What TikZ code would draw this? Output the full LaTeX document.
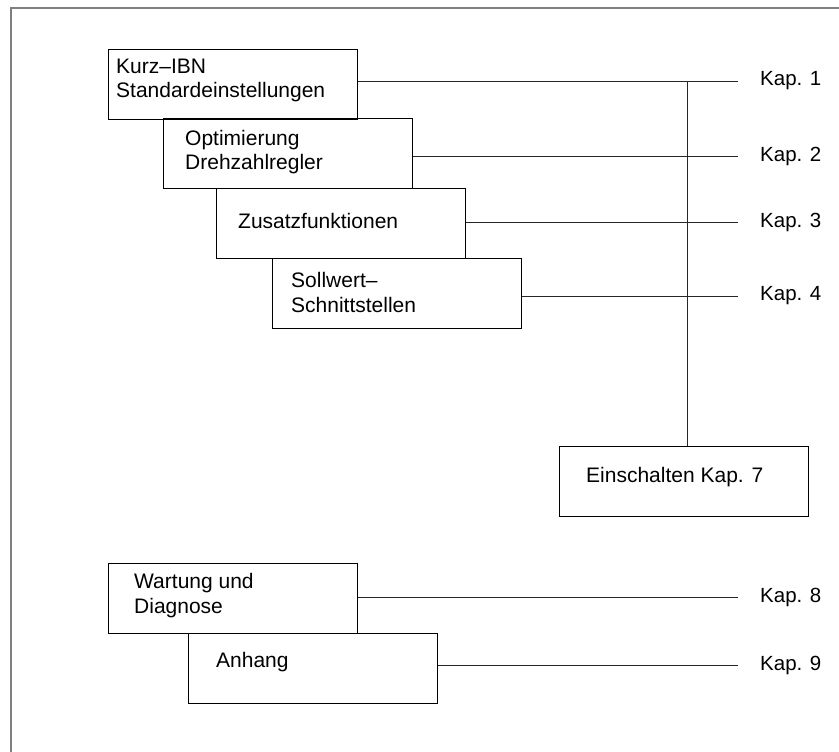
\documentclass[tikz,border=0pt]{standalone}
\usepackage{fontspec}
\setmainfont{Liberation Sans}
\begin{document}
\begin{tikzpicture}[x=1pt,y=-1pt,
  box/.style={draw=black, line width=0.9pt, minimum width=249pt, minimum height=70pt, inner sep=0pt, anchor=north west},
  txt/.style={anchor=west, inner sep=0pt, align=left, font=\fontsize{21}{24.5}\selectfont},
  kap/.style={anchor=west, inner sep=0pt, font=\fontsize{20.5}{24}\selectfont},
  conn/.style={draw=black!85, line width=0.9pt},
  frame/.style={draw=black!50, line width=1.5pt}]
\useasboundingbox (0,0) rectangle (839,752);
% frame
\draw[frame] (839,8) -- (11,8) -- (11,752);
% boxes
\node[box] (b1) at (108,49) {};
\node[box] (b2) at (163,118) {};
\node[box] (b3) at (216,188) {};
\node[box] (b4) at (272,258) {};
\node[box] (b7) at (559,446) {};
\node[box] (b8) at (108,563) {};
\node[box] (b9) at (188,633) {};
% box texts
\node[txt] (t1) at (116,80.5) {Kurz–IBN\\Standardeinstellungen};
\node[txt] (t2) at (185,152) {Optimierung\\Drehzahlregler};
\node[txt] (t3) at (238,221) {Zusatzfunktionen};
\node[txt] (t4) at (291,292.5) {Sollwert–\\Schnittstellen};
\node[txt] (t7) at (586,477) {Einschalten Kap. 7};
\node[txt] (t8) at (134,595.5) {Wartung und\\Diagnose};
\node[txt] (t9) at (216,662) {Anhang};
% line ends
\coordinate (e1) at (738,81);
\coordinate (e2) at (738,156);
\coordinate (e3) at (738,222);
\coordinate (e4) at (738,296);
\coordinate (e8) at (738,597);
\coordinate (e9) at (738,665);
\coordinate (v) at (687,81);
% labels
\node[kap] (k1) at ([xshift=22pt]e1) {Kap. 1};
\node[kap] (k2) at ([xshift=22pt]e2) {Kap. 2};
\node[kap] (k3) at ([xshift=22pt]e3) {Kap. 3};
\node[kap] (k4) at ([xshift=22pt]e4) {Kap. 4};
\node[kap] (k8) at ([xshift=22pt]e8) {Kap. 8};
\node[kap] (k9) at ([xshift=22pt]e9) {Kap. 9};
% connectors
\draw[conn] (b1.east |- e1) -- (e1);
\draw[conn] (b2.east |- e2) -- (e2);
\draw[conn] (b3.east |- e3) -- (e3);
\draw[conn] (b4.east |- e4) -- (e4);
\draw[conn] (b8.east |- e8) -- (e8);
\draw[conn] (b9.east |- e9) -- (e9);
\draw[conn] (v) -- (v |- b7.north);
\end{tikzpicture}
\end{document}
